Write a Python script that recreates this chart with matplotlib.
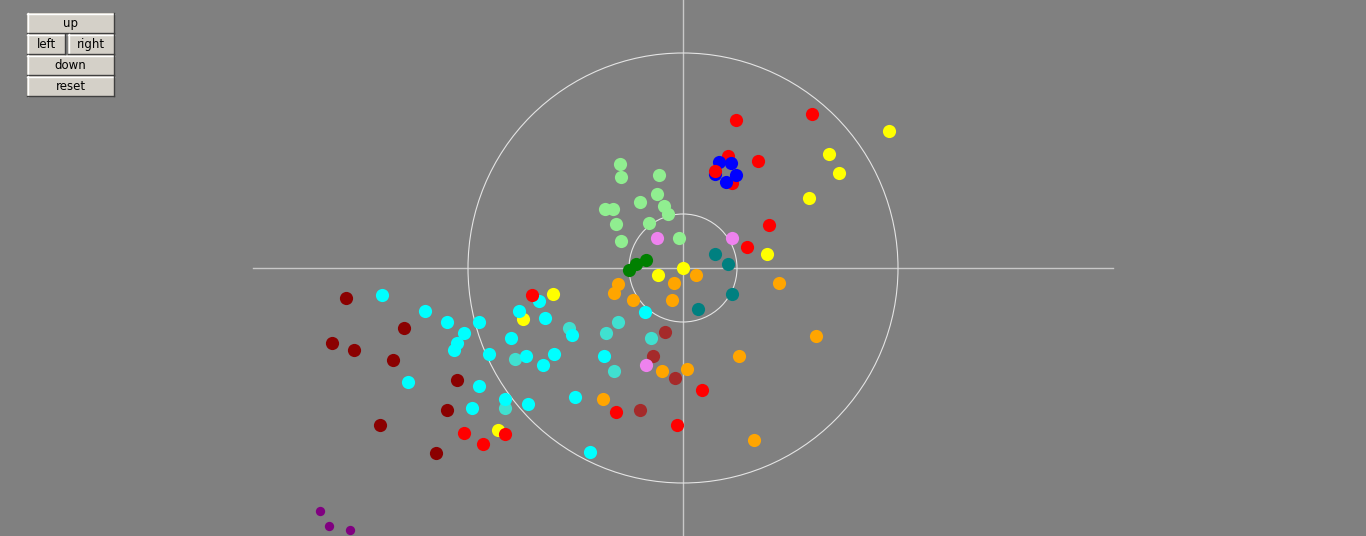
import matplotlib
matplotlib.use("Agg")
import matplotlib.pyplot as plt
from matplotlib.patches import Circle, Rectangle

# ---- data (centered coordinates) ----
lightgreen_x = [-63, -62, -24, -26, -43, -19, -15, -78, -70, -67, -34, -62, -4]
lightgreen_y = [104, 91, 93, 74, 66, 62, 54, 59, 59, 44, 45, 27, 30]

violet_x = [-26, 49, -37]
violet_y = [30, 30, -97]

teal_x = [32, 45, 49, 15]
teal_y = [14, 4, -26, -41]

darkgreen_x = [-54, -47, -37]
darkgreen_y = [-2, 4, 8]

yellow_x = [0, -25, 84, 206, 146, 156, 126, -130, -160, -185]
yellow_y = [0, -7, 14, 137, 114, 95, 70, -26, -51, -162]

orange_x = [13, -9, -65, -69, -50, -11, 96, 133, 56, -21, 4, -80, 71]
orange_y = [-7, -15, -16, -25, -32, -32, -15, -68, -88, -103, -101, -131, -172]

cyan_x = [-38, -301, -258, -236, -204, -219, -226, -229, -194, -275, -204, -211, -178,
          -155, -144, -164, -138, -172, -111, -157, -129, -140, -108, -79, -93]
cyan_y = [-44, -27, -43, -54, -54, -65, -75, -82, -86, -114, -118, -140, -131,
          -136, -33, -43, -50, -70, -67, -88, -86, -97, -129, -88, -184]

turquoise_x = [-65, -77, -32, -168, -178, -114, -69]
turquoise_y = [-54, -65, -70, -91, -140, -60, -103]

brown_x = [-18, -30, -8, -43]
brown_y = [-64, -88, -110, -142]

darkred_x = [-337, -279, -351, -329, -290, -226, -236, -303, -247]
darkred_y = [-30, -60, -75, -82, -92, -112, -142, -157, -185]

red_x = [86, 64, 75, 53, 129, 45, 49, -151, -219, -200, -178, 19, -67, -6]
red_y = [43, 21, 107, 148, 154, 112, 85, -27, -165, -176, -166, -122, -144, -157]

blue_x = [36, 48, 53, 43, 32]
blue_y = [106, 105, 93, 86, 94]

red_top_x = [32]
red_top_y = [97]

purple_x = [-363, -354, -333]
purple_y = [-243, -258, -262]

outer_r = 215
inner_r = 54

buttons = [("up", 27, 13, 87, 20), ("left", 27, 34, 38, 20), ("right", 68, 34, 46, 20),
           ("down", 27, 55, 87, 20), ("reset", 27, 76, 87, 20)]

# ---- figure ----
W, H = 1366, 536
fig = plt.figure(figsize=(W / 100, H / 100), dpi=100, facecolor="#808080")
ax = fig.add_axes([0, 0, 1, 1])
ax.set_facecolor("#808080")
ax.set_xlim(-W / 2, W / 2)
ax.set_ylim(-H / 2, H / 2)
ax.axis("off")

line_c = "#c8c8c8"
ax.plot([-2 * outer_r, 2 * outer_r], [0, 0], color=line_c, lw=1, zorder=1)
ax.plot([0, 0], [-2 * outer_r, 2 * outer_r], color=line_c, lw=1, zorder=1)
ax.add_patch(Circle((0, 0), outer_r, fill=False, ec="#e4e4e4", lw=0.8, zorder=1))
ax.add_patch(Circle((0, 0), inner_r, fill=False, ec="#e4e4e4", lw=0.8, zorder=1))

S = 90
groups = [
    (lightgreen_x, lightgreen_y, "lightgreen", S),
    (teal_x, teal_y, "#008080", S),
    (darkgreen_x, darkgreen_y, "green", S),
    (yellow_x, yellow_y, "yellow", S),
    (orange_x, orange_y, "orange", S),
    (turquoise_x, turquoise_y, "turquoise", S),
    (cyan_x, cyan_y, "cyan", S),
    (brown_x, brown_y, "brown", S),
    (darkred_x, darkred_y, "darkred", S),
    (violet_x, violet_y, "violet", S),
    (red_x, red_y, "red", S),
    (blue_x, blue_y, "blue", S),
    (red_top_x, red_top_y, "red", S),
    (purple_x, purple_y, "purple", 45),
]
for i, (xs, ys, c, s) in enumerate(groups):
    ax.scatter(xs, ys, s=s, c=c, linewidths=0, zorder=3 + i)

# ---- buttons (pixel coordinates overlay) ----
bx = fig.add_axes([0, 0, 1, 1])
bx.set_xlim(0, W)
bx.set_ylim(H, 0)
bx.axis("off")
bx.patch.set_alpha(0)
for label, x0, y0, w, h in buttons:
    bx.add_patch(Rectangle((x0, y0), w, h, fc="#d4d0c8", ec="none", zorder=1))
    bx.plot([x0, x0 + w], [y0 + 0.5, y0 + 0.5], color="white", lw=1, zorder=2)
    bx.plot([x0 + 0.5, x0 + 0.5], [y0, y0 + h], color="white", lw=1, zorder=2)
    bx.plot([x0, x0 + w], [y0 + h - 0.5, y0 + h - 0.5], color="#404040", lw=1, zorder=2)
    bx.plot([x0 + w - 0.5, x0 + w - 0.5], [y0, y0 + h], color="#404040", lw=1, zorder=2)
    bx.text(x0 + w / 2, y0 + h / 2 + 0.5, label, ha="center", va="center",
            fontsize=8.5, family="DejaVu Sans", color="black", zorder=3)

fig.savefig("out.png", dpi=100, facecolor=fig.get_facecolor())
